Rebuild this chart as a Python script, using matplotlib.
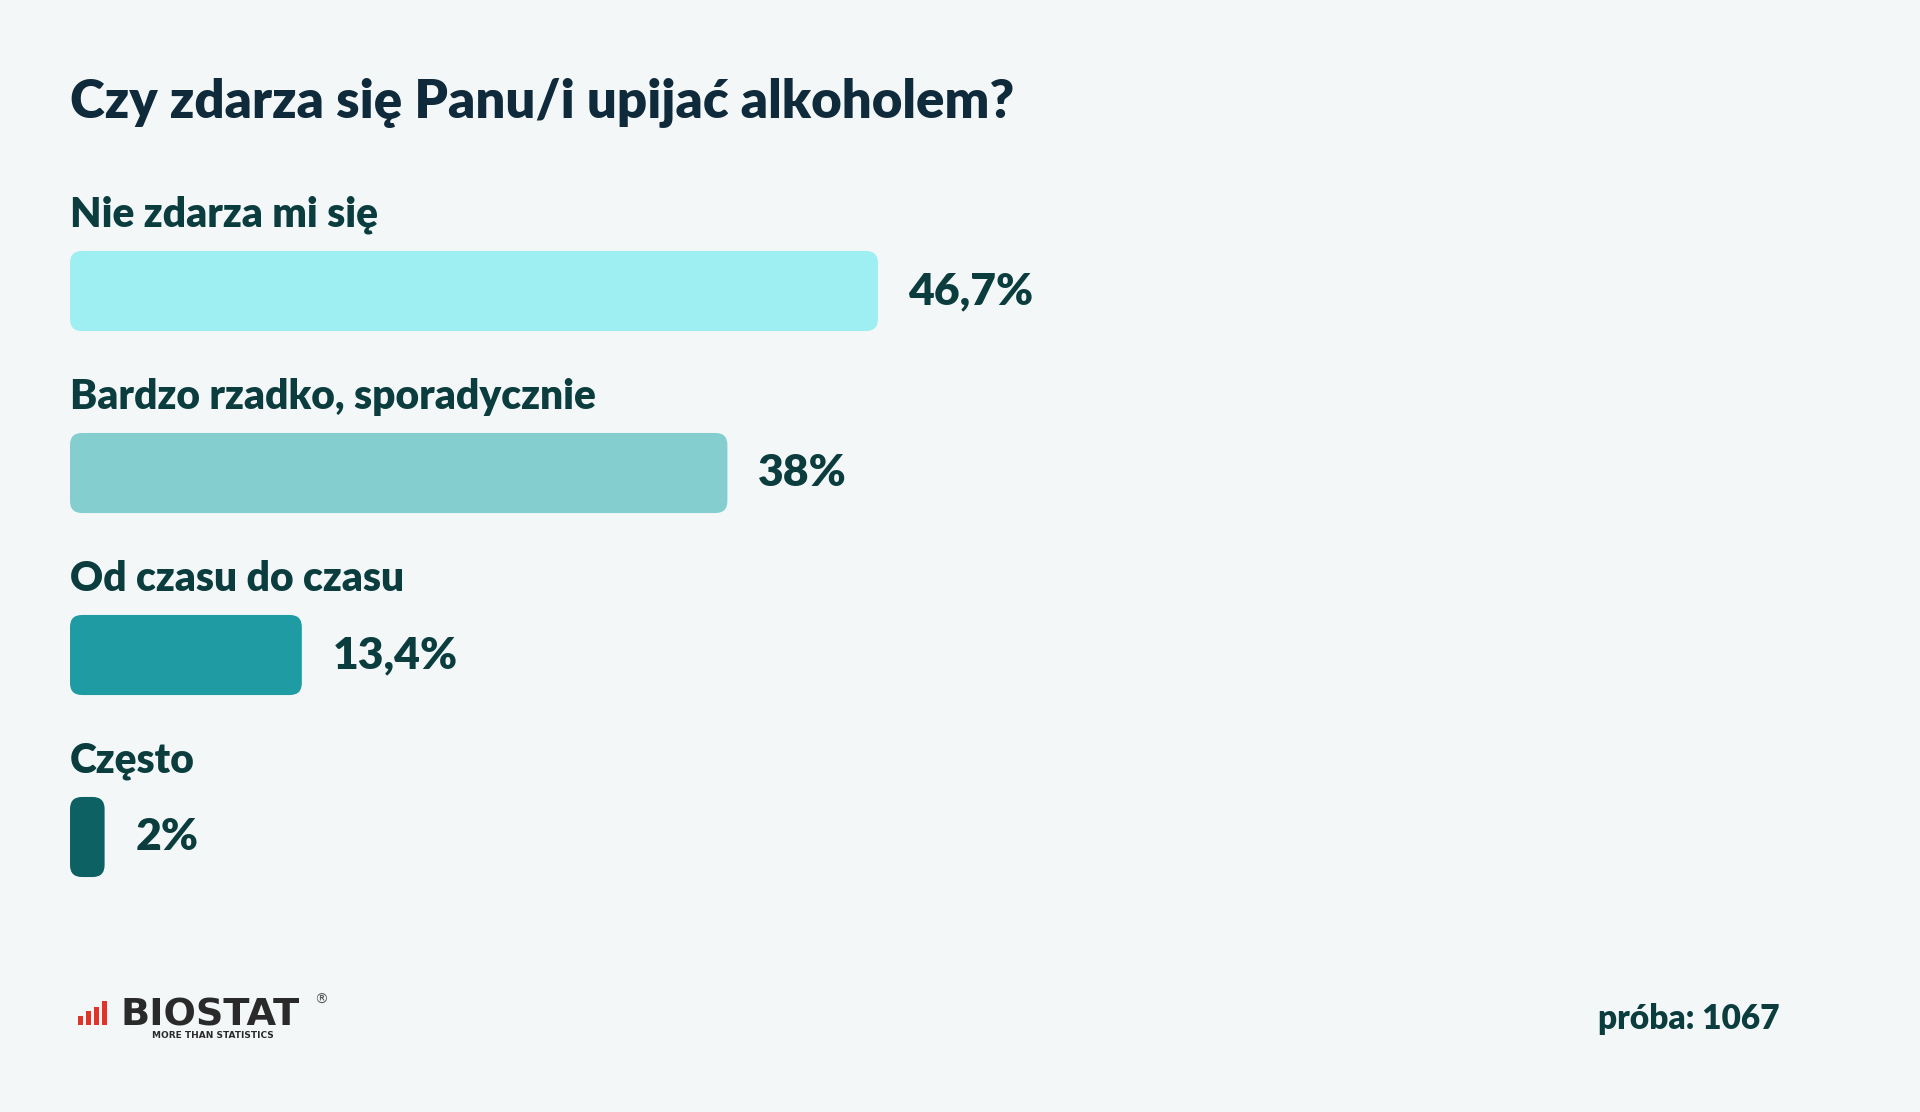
import matplotlib.pyplot as plt
from matplotlib.patches import FancyBboxPatch, Rectangle

# data
title = "Czy zdarza się Panu/i upijać alkoholem?"
categories = ["Nie zdarza mi się", "Bardzo rzadko, sporadycznie", "Od czasu do czasu", "Często"]
values = [46.7, 38, 13.4, 2]
value_labels = ["46,7%", "38%", "13,4%", "2%"]
sample_note = "próba: 1067"

bar_colors = ["#9DEFF1", "#84CED0", "#1F9BA3", "#0D6163"]
bg = "#F3F7F8"
text_dark = "#0B3D3F"
title_color = "#0F2A3A"

plt.rcParams["font.family"] = ["Lato", "DejaVu Sans"]

fig = plt.figure(figsize=(19.2, 11.12), dpi=100)
fig.patch.set_facecolor(bg)

# bar area: 17.3 px per percent, bar rows 182 px apart
ax = fig.add_axes([70 / 1920, 184 / 1112, 1730 / 1920, 728 / 1112])
ax.set_facecolor(bg)
ax.set_xlim(0, 100)
ax.set_ylim(3.5, -0.5)
ax.axis("off")

ypos = list(range(len(categories)))
bar_h = 0.44
bars = ax.barh(ypos, values, height=bar_h, color=bar_colors)

px_x = 100 / 1730   # data units per pixel in x
px_y = 4 / 728      # data units per pixel in y
radius_px = 12
for b, c in zip(bars, bar_colors):
    x0, y0 = b.get_x(), b.get_y()
    w, h = b.get_width(), b.get_height()
    b.remove()
    rs = radius_px * px_x
    ax.add_patch(FancyBboxPatch((x0, y0), w, h,
                                boxstyle=f"round,pad=0,rounding_size={rs}",
                                mutation_aspect=px_y / px_x,
                                facecolor=c, edgecolor="none"))

for i, (cat, v, lab) in enumerate(zip(categories, values, value_labels)):
    ax.text(0, i - 64 * px_y, cat, ha="left", va="baseline",
            fontsize=29.3, fontweight="heavy", color=text_dark)
    ax.annotate(lab, (v, i), xytext=(22, 0), textcoords="offset points",
                ha="left", va="center", fontsize=32, fontweight="heavy",
                color=text_dark)

fig.text(70 / 1920, 1 - 118 / 1112, title, ha="left", va="baseline",
         fontsize=38, fontweight="heavy", color=title_color)

fig.text(1780 / 1920, 1 - 1029 / 1112, sample_note, ha="right", va="baseline",
         fontsize=24, fontweight="heavy", color=text_dark)

# logo
icon_x = [78, 86, 94, 102]
icon_h = [9, 14, 18, 24]
for x, h in zip(icon_x, icon_h):
    fig.patches.append(Rectangle((x / 1920, 1 - 1025 / 1112), 5 / 1920, h / 1112,
                                 transform=fig.transFigure, facecolor="#E0342B",
                                 edgecolor="none"))
fig.text(121 / 1920, 1 - 1025 / 1112, "BIOSTAT", ha="left", va="baseline",
         fontsize=27.5, fontweight="bold", color="#2A2A2A", family="DejaVu Sans")
fig.text(152 / 1920, 1 - 1038 / 1112, "MORE THAN STATISTICS", ha="left", va="baseline",
         fontsize=6.5, fontweight="bold", color="#2A2A2A", family="DejaVu Sans")
fig.text(314 / 1920, 1 - 1004 / 1112, "®", ha="left", va="baseline",
         fontsize=10, color="#555555", family="DejaVu Sans")

fig.savefig("out.png", dpi=100, facecolor=bg)
